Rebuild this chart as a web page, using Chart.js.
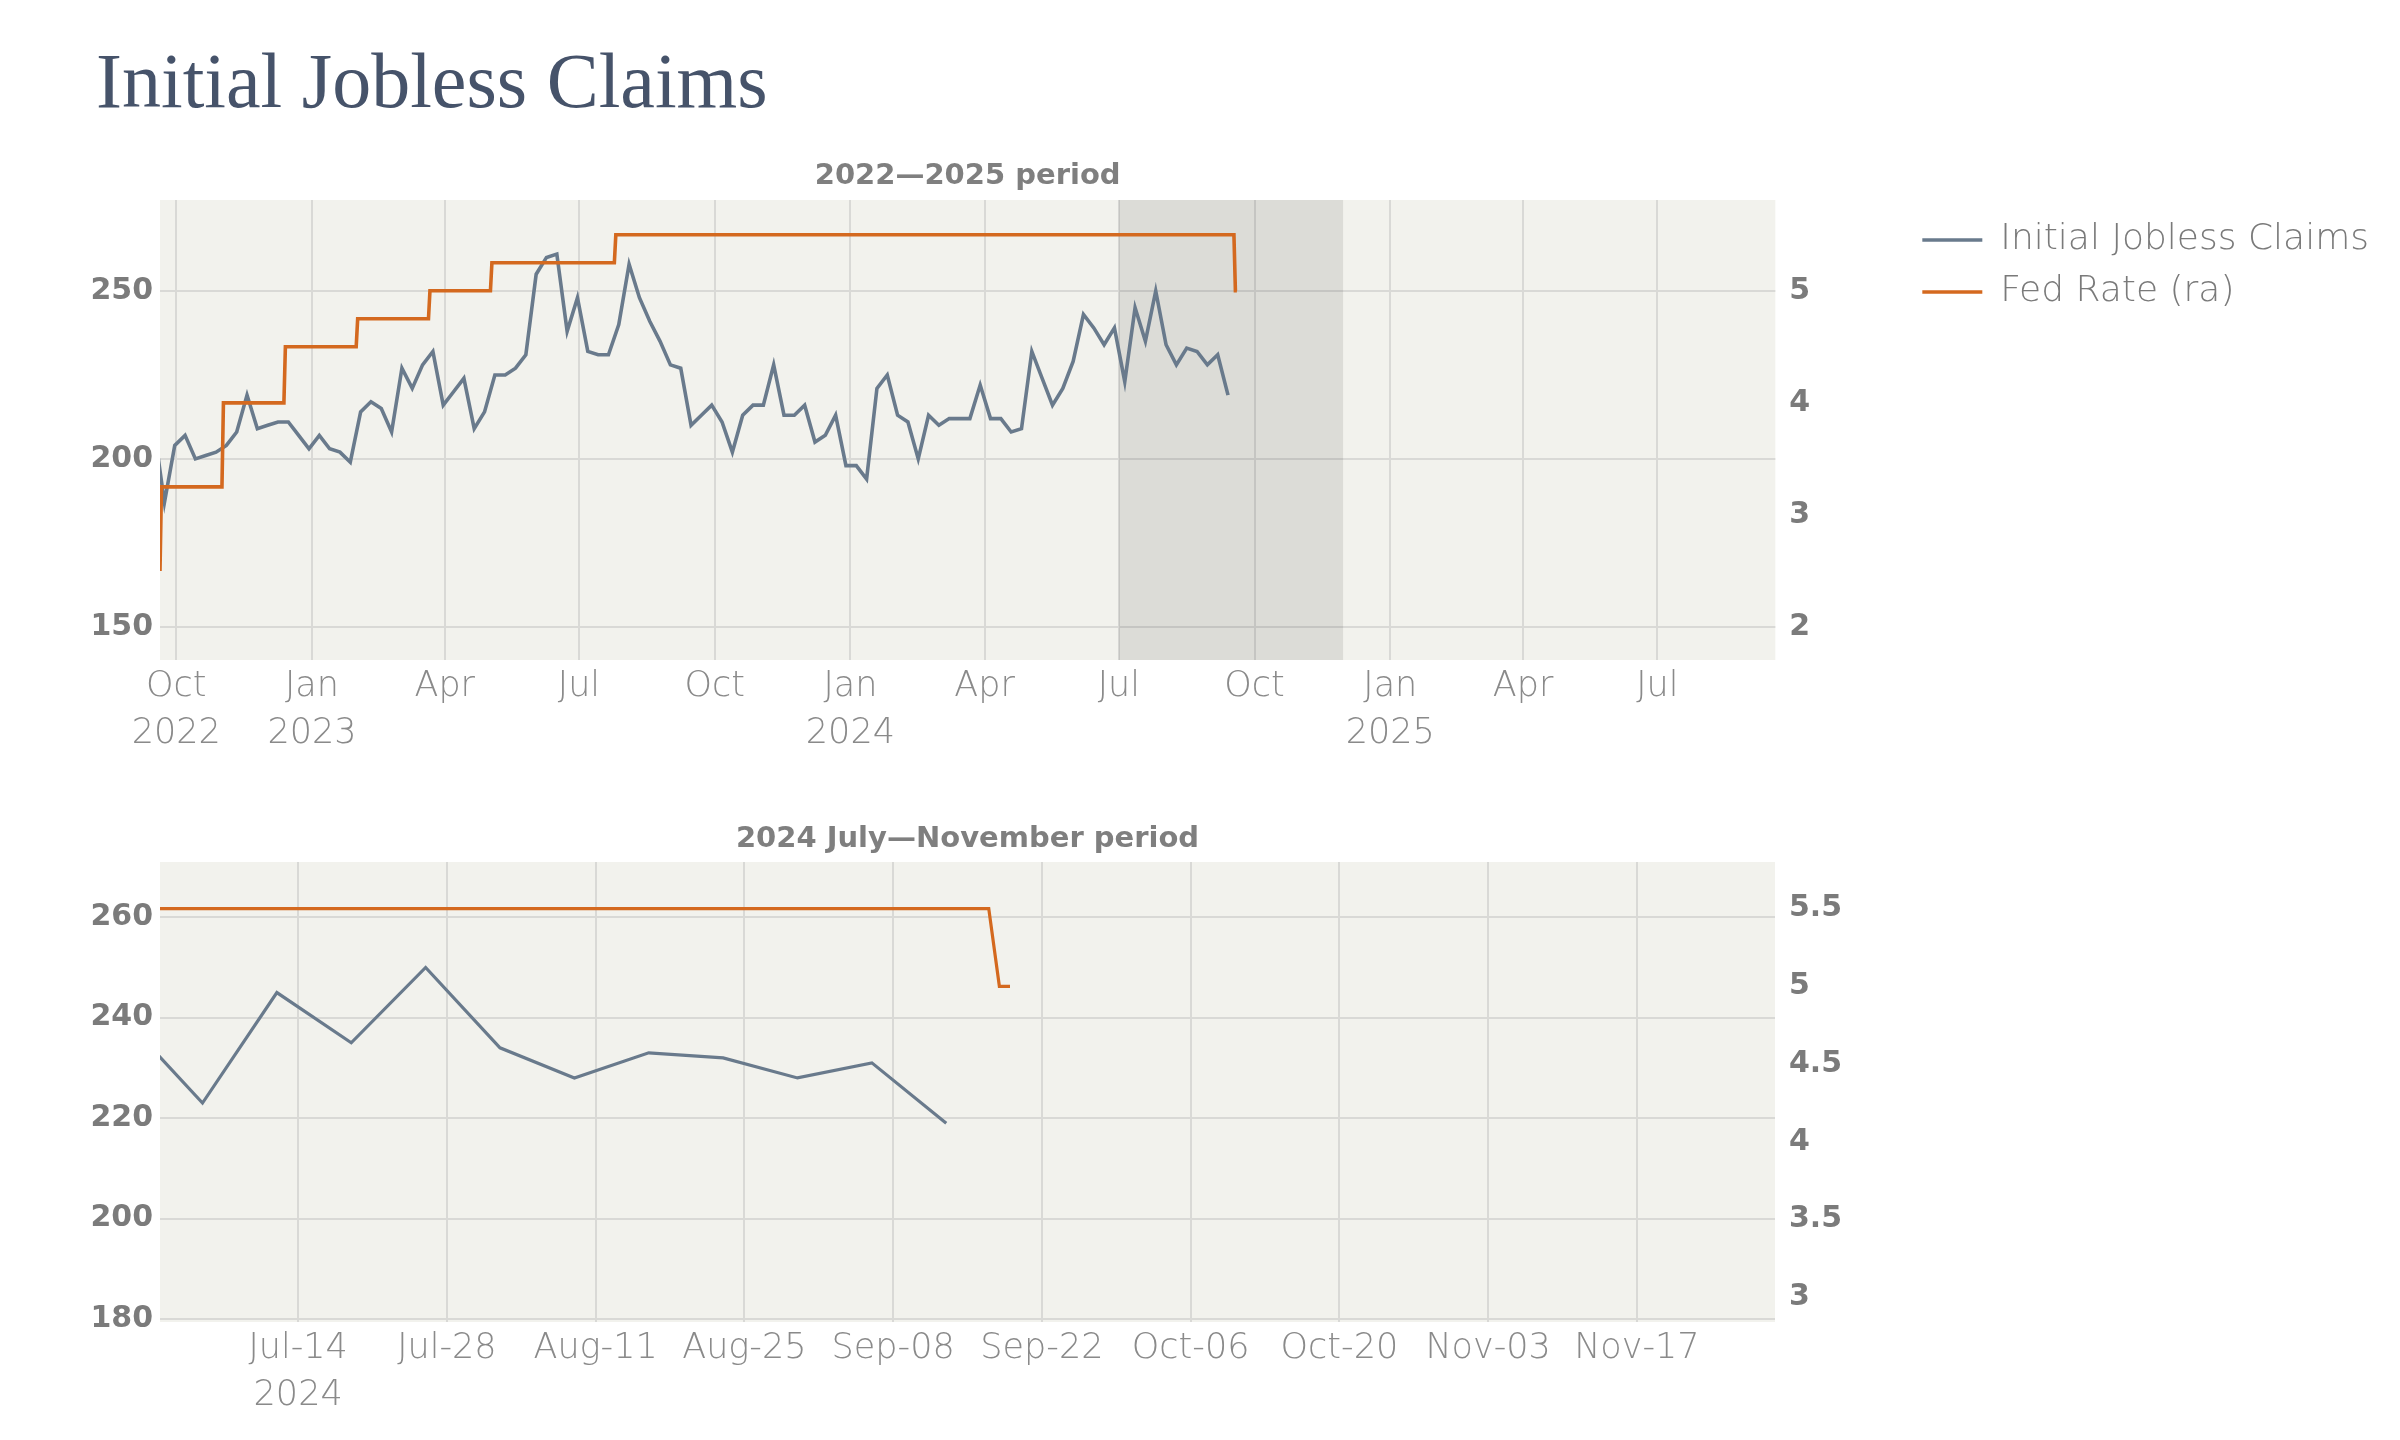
<!DOCTYPE html>
<html>
<head>
<meta charset="utf-8">
<title>Initial Jobless Claims</title>
<script src="https://cdn.jsdelivr.net/npm/chart.js@4.4.1/dist/chart.umd.min.js"></script>
<style>
  html, body { margin: 0; padding: 0; background: #fff; }
  body { width: 2400px; height: 1440px; position: relative; overflow: hidden; }
  h1 {
    position: absolute; left: 96px; top: 41px; margin: 0;
    font: 400 78px/80px 'Liberation Serif', serif; color: #46536a;
  }
  canvas { position: absolute; left: 0; }
  #topChart { top: 140px; }
  #zoomChart { top: 800px; }
</style>
</head>
<body>
<h1>Initial Jobless Claims</h1>
<canvas id="topChart" width="2400" height="620"></canvas>
<canvas id="zoomChart" width="2400" height="640"></canvas>
<script>
// weekly initial jobless claims (thousands), one value per week starting Fri 2022-09-16
const claimsStart = '2022-09-16'
const claims = [
  209, 187, 204, 207, 200, 201, 202, 204, 208, 219, 209, 210, 211, 211, 207, 203,
  207, 203, 202, 199, 214, 217, 215, 208, 227, 221, 228, 232, 216,
  220, 224, 209, 214, 225, 225, 227, 231, 255, 260, 261, 238, 248,
  232, 231, 231, 240, 258, 248, 241, 235, 228, 227, 210, 213, 216,
  211, 202, 213, 216, 216, 228, 213, 213, 216, 205, 207, 213, 198,
  198, 194, 221, 225, 213, 211, 200, 213, 210, 212, 212, 212, 222,
  212, 212, 208, 209, 232, 224, 216, 221, 229, 243, 239, 234, 239,
  223, 245, 235, 250, 234, 228, 233, 232, 228, 231, 219,
]

// fed funds target (upper bound), the dates where the line turns
const fedDates = [
  '2022-09-20', '2022-09-21', '2022-11-01', '2022-11-02', '2022-12-13', '2022-12-14',
  '2023-01-31', '2023-02-01', '2023-03-21', '2023-03-22', '2023-05-02', '2023-05-03',
  '2023-07-25', '2023-07-26', '2024-09-17', '2024-09-18', '2024-09-19',
]
const fedRate = [2.5, 3.25, 3.25, 4, 4, 4.5, 4.5, 4.75, 4.75, 5, 5, 5.25, 5.25, 5.5, 5.5, 5, 5]

const topRange = ['2022-09-20', '2025-09-19']
const zoomRange = ['2024-07-01', '2024-11-30']

const topTicks = [
  '2022-10-01', '2023-01-01', '2023-04-01', '2023-07-01', '2023-10-01', '2024-01-01',
  '2024-04-01', '2024-07-01', '2024-10-01', '2025-01-01', '2025-04-01', '2025-07-01',
]
const topTickLabels = [
  ['Oct', '2022'], ['Jan', '2023'], 'Apr', 'Jul', 'Oct', ['Jan', '2024'],
  'Apr', 'Jul', 'Oct', ['Jan', '2025'], 'Apr', 'Jul',
]
const zoomTicks = [
  '2024-07-14', '2024-07-28', '2024-08-11', '2024-08-25', '2024-09-08',
  '2024-09-22', '2024-10-06', '2024-10-20', '2024-11-03', '2024-11-17',
]
const zoomTickLabels = [
  ['Jul-14', '2024'], 'Jul-28', 'Aug-11', 'Aug-25', 'Sep-08',
  'Sep-22', 'Oct-06', 'Oct-20', 'Nov-03', 'Nov-17',
]
const topClaimTicks = [150, 200, 250]
const topRateTicks = [2, 3, 4, 5]
const zoomClaimTicks = [180, 200, 220, 240, 260]
const zoomRateTicks = [3, 3.5, 4, 4.5, 5, 5.5]

const BLUE = '#697a8c'
const ORANGE = '#d4691f'
const GRID = '#d9d9d6'

const day = s => Date.parse(s + 'T00:00:00Z')
const WEEK = 7 * 864e5
const claimPoints = claims.map((v, i) => ({ x: day(claimsStart) + i * WEEK, y: v }))
const fedPoints = fedDates.map((d, i) => ({ x: day(d), y: fedRate[i] }))

Chart.defaults.font.family = "'DejaVu Sans', sans-serif"
Chart.defaults.animation = false

// grey plot background and the shaded zoom window
const plotArea = {
  id: 'plotArea',
  beforeDraw(chart, args, opts) {
    const { ctx, chartArea: a } = chart
    ctx.save()
    ctx.fillStyle = '#f2f2ed'
    ctx.fillRect(a.left, a.top, a.width, a.height)
    ctx.restore()
  },
  beforeDatasetsDraw(chart, args, opts) {
    if (!opts.shade) return
    const { ctx, chartArea: a, scales } = chart
    const x0 = Math.max(a.left, scales.x.getPixelForValue(day(opts.shade[0])))
    const x1 = Math.min(a.right, scales.x.getPixelForValue(day(opts.shade[1])))
    ctx.save()
    ctx.fillStyle = 'rgba(0, 0, 0, 0.09)'
    ctx.fillRect(x0, a.top, x1 - x0, a.height)
    ctx.restore()
  },
}

const setTicks = list => scale => {
  scale.ticks = list.map(v => ({ value: v }))
}

function makeChart(id, o) {
  const lineW = o.lineWidth
  return new Chart(document.getElementById(id), {
    type: 'line',
    data: {
      datasets: [
        {
          label: 'Initial Jobless Claims',
          data: claimPoints,
          yAxisID: 'y',
          borderColor: BLUE,
          backgroundColor: BLUE,
          borderWidth: lineW,
          pointRadius: 0,
          order: 1,
        },
        {
          label: 'Fed Rate (ra)',
          data: fedPoints,
          yAxisID: 'y1',
          borderColor: ORANGE,
          backgroundColor: ORANGE,
          borderWidth: lineW,
          pointRadius: 0,
          order: 0,
        },
      ],
    },
    plugins: [plotArea],
    options: {
      responsive: false,
      parsing: false,
      normalized: true,
      layout: { padding: { left: 0, top: 0, bottom: 0, right: o.padRight } },
      plugins: {
        plotArea: { shade: o.shade },
        tooltip: { enabled: false },
        title: {
          display: true,
          text: o.title,
          fullSize: false,
          color: '#7f7f7f',
          font: { size: 29, weight: 'bold', lineHeight: 1.2 },
          padding: o.titlePad,
        },
        legend: {
          display: o.legend,
          position: 'right',
          align: 'start',
          fullSize: false,
          maxWidth: 480,
          // empty title only used to push the items down a little
          title: { display: true, text: '', font: { size: 6, lineHeight: 1 }, padding: 0 },
          labels: {
            usePointStyle: true,
            pointStyle: 'line',
            pointStyleWidth: 60,
            padding: 16,
            color: '#7a7a7a',
            font: { size: 36, weight: 200 },
            sort: (a, b) => a.datasetIndex - b.datasetIndex,
          },
        },
      },
      scales: {
        x: {
          type: 'linear',
          min: day(o.range[0]),
          max: day(o.range[1]),
          grid: { color: GRID, lineWidth: 2, drawTicks: false },
          border: { display: false },
          afterBuildTicks: setTicks(o.xTicks.map(day)),
          afterFit: s => { s.height = o.xHeight },
          ticks: {
            autoSkip: false,
            maxRotation: 0,
            padding: 3,
            color: '#8a8a8a',
            font: { size: 35, weight: 200, lineHeight: 1.35 },
            callback: (v, i) => o.xLabels[i],
          },
        },
        y: {
          position: 'left',
          min: o.yRange[0],
          max: o.yRange[1],
          grid: { color: GRID, lineWidth: 2, drawTicks: false },
          border: { display: false },
          afterBuildTicks: setTicks(o.yTicks),
          afterFit: s => { s.width = 160 },
          ticks: {
            padding: 7,
            color: '#7b7b7b',
            font: { size: 30, weight: 'bold' },
            callback: v => String(v),
          },
        },
        y1: {
          position: 'right',
          min: o.y1Range[0],
          max: o.y1Range[1],
          grid: { display: false },
          border: { display: false },
          afterBuildTicks: setTicks(o.y1Ticks),
          afterFit: s => { s.width = o.y1Width },
          ticks: {
            padding: 6,
            color: '#7b7b7b',
            font: { size: 30, weight: 'bold' },
            callback: v => String(v),
          },
        },
      },
    },
  })
}

makeChart('topChart', {
  title: '2022\u20142025 period',
  titlePad: { top: 18.6, bottom: 6.6 },
  legend: true,
  padRight: 21,
  y1Width: 131,
  lineWidth: 3.6,
  range: topRange,
  shade: zoomRange,
  xTicks: topTicks,
  xLabels: topTickLabels,
  xHeight: 100,
  yRange: [140.1, 277.1],
  yTicks: topClaimTicks,
  y1Range: [1.705, 5.81],
  y1Ticks: topRateTicks,
})

makeChart('zoomChart', {
  title: '2024 July\u2014November period',
  titlePad: { top: 21.6, bottom: 5.6 },
  legend: false,
  padRight: 500,
  y1Width: 125,
  lineWidth: 3.2,
  range: zoomRange,
  shade: null,
  xTicks: zoomTicks,
  xLabels: zoomTickLabels,
  xHeight: 118,
  yRange: [179.4, 271],
  yTicks: zoomClaimTicks,
  y1Range: [2.84, 5.8],
  y1Ticks: zoomRateTicks,
})
</script>
</body>
</html>
